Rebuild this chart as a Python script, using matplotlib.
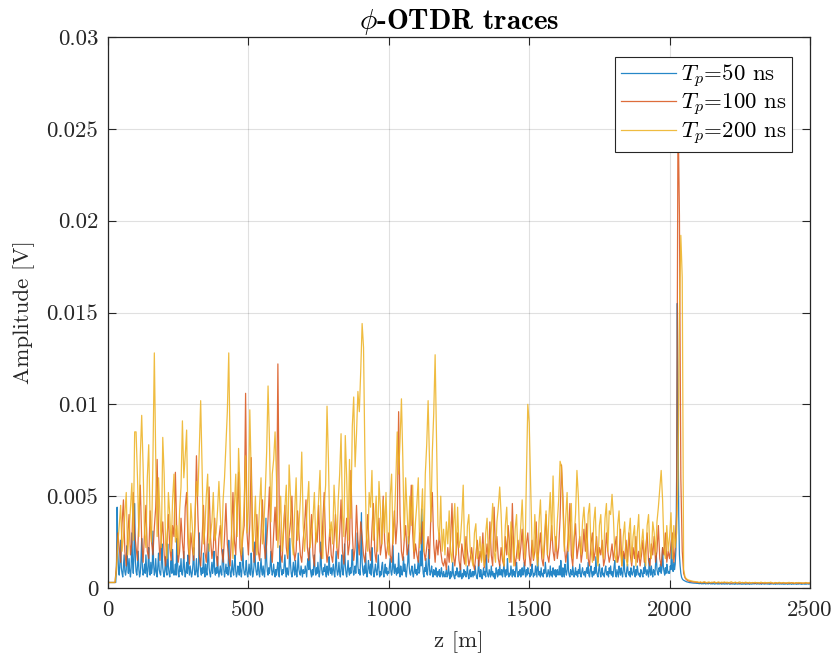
import numpy as np
import matplotlib
matplotlib.use("Agg")
import matplotlib.pyplot as plt

# ---------------- data (amplitudes in units of 1e-4 V) ----------------
amp_scale = 1e-4
z_step_50ns = 2.5   # m between samples of the 50 ns trace
z_step_100ns = 5.0
z_step_200ns = 5.0

amp_50ns = [
    3,3,3,3,3,3,3,3,3,3,3,3,10,44,20,9,7,14,26,11,8,6,12,18,9,7,10,23,13,8,16,9,6,11,30,14,8,19,46,15,
    9,7,12,20,10,6,8,15,27,11,7,9,13,8,18,10,6,12,22,9,7,14,8,11,31,13,7,9,16,8,6,12,19,10,8,7,14,24,11,8,
    6,10,17,9,7,24,12,8,6,11,15,8,21,10,7,9,13,7,27,14,8,6,12,9,16,8,7,11,20,10,6,9,14,8,18,11,7,12,9,6,
    8,13,22,10,7,9,16,8,6,12,30,14,9,7,11,8,19,10,6,13,9,7,15,24,11,8,6,10,14,8,12,20,9,7,11,8,17,10,6,9,
    12,8,7,16,21,10,6,9,13,8,11,7,26,12,8,6,10,15,9,7,13,18,9,6,8,12,10,7,14,9,6,11,22,12,8,7,10,15,8,6,
    9,13,8,7,19,11,6,8,12,25,13,9,7,10,14,8,6,11,16,9,7,12,8,6,13,38,15,9,7,11,8,12,20,10,7,9,13,8,6,10,
    7,11,14,8,6,23,12,9,7,10,8,13,18,9,6,11,8,7,12,27,13,8,6,9,14,10,7,15,9,6,11,19,10,8,7,12,9,6,10,8,
    8,12,9,6,13,16,10,22,11,8,6,10,7,12,18,9,7,11,8,14,9,6,10,25,12,8,7,11,9,13,8,6,12,9,7,17,10,8,11,7,
    10,13,8,6,12,20,10,7,9,14,8,6,11,18,9,7,12,24,13,8,6,10,15,9,7,11,8,13,21,10,7,9,12,8,14,30,12,8,10,7,
    18,41,14,9,7,12,8,19,10,6,9,15,11,8,13,7,22,12,8,6,10,13,9,7,11,18,10,6,9,7,12,14,8,6,10,13,8,11,7,9,
    8,12,16,9,7,10,23,11,8,13,9,7,11,8,19,10,6,12,9,7,10,17,9,13,8,6,11,14,28,12,8,7,10,12,8,6,9,13,8,10,
    7,11,15,8,9,20,12,43,14,8,6,11,9,16,8,7,13,21,10,7,9,12,8,6,10,9,7,11,8,6,9,7,10,6,8,11,7,6,9,7,
    6,8,10,6,7,12,8,5,9,6,7,14,8,6,5,9,7,11,8,6,9,6,13,7,5,8,6,10,7,9,6,8,12,7,5,8,10,6,7,9,
    6,9,7,12,8,6,5,9,15,8,6,10,7,5,8,11,7,9,6,18,9,7,6,10,8,6,12,7,9,6,8,5,7,11,8,6,10,7,13,8,
    7,10,6,9,13,8,6,10,7,16,9,6,8,7,12,8,6,10,7,9,6,11,14,8,6,9,7,10,6,8,11,7,9,14,8,6,10,7,11,8,
    8,6,10,7,13,9,6,8,7,12,9,6,17,10,7,9,6,11,7,8,6,10,8,14,9,6,7,10,8,6,12,7,9,6,11,8,7,10,6,9,
    10,7,8,12,7,15,9,6,11,8,6,13,9,7,10,20,9,7,6,10,8,7,12,9,6,8,11,7,9,6,10,8,13,7,6,9,11,8,7,9,
    6,9,11,8,14,7,6,10,12,8,6,9,7,11,8,17,9,7,6,10,13,8,6,9,11,7,8,6,10,12,8,7,9,6,11,8,12,7,9,6,
    8,12,15,7,6,10,8,6,12,9,7,11,8,6,10,18,9,7,6,10,13,8,7,9,6,11,8,7,9,12,8,6,10,7,12,9,7,8,6,10,
    9,7,6,11,8,14,9,7,10,8,6,16,9,7,12,8,6,10,9,7,13,19,10,8,7,11,9,13,8,10,22,12,9,7,11,8,13,10,8,9,
    8,12,10,25,11,9,14,10,13,21,60,155,90,40,18,12,8,6,5,4.5,4.2,4,3.8,3.6,3.4,3.3,3.2,3.1,3,2.9,2.9,2.8,2.8,2.7,2.7,2.6,2.7,2.6,2.6,2.5,
    2.6,2.4,2.5,2.3,2.6,2.4,2.2,2.5,2.3,2.4,2.6,2.2,2.4,2.3,2.5,2.2,2.4,2.6,2.3,2.2,2.4,2.2,2.5,2.3,2.1,2.4,2.2,2.6,2.3,2.1,2.4,2.2,2.3,2.5,2.1,2.3,2.2,2.4,2.1,2.3,
    2.2,2.4,2.1,2.3,2.5,2.2,2.0,2.3,2.2,2.4,2.1,2.3,2.2,2.0,2.4,2.2,2.3,2.1,2.2,2.4,2.1,2.3,2.2,2.0,2.3,2.1,2.4,2.2,2.0,2.3,2.1,2.2,2.4,2.1,2.0,2.3,2.2,2.1,2.3,2.2,
    2.4,2.2,2.5,2.3,2.1,2.4,2.2,2.3,2.1,2.4,2.2,2.0,2.3,2.5,2.2,2.1,2.3,2.2,2.4,2.1,2.3,2.2,2.0,2.4,2.1,2.3,2.2,2.4,2.1,2.2,2.3,2.0,2.2,2.4,2.1,2.3,2.2,2.1,2.3,2.2,
    2.1,2.3,2.2,2.0,2.3,2.1,2.4,2.2,2.0,2.3,2.1,2.2,2.4,2.1,2.0,2.3,2.2,2.1,2.3,2.2,2.2,2.0,2.3,2.1,2.2,2.4,2.1,2.3,2.0,2.2,2.1,2.3,2.2,2.0,2.3,2.1,2.2,2.3,2.1,2.2,
    2.2,
]

amp_100ns = [
    3,3,3,3,3,3,12,30,22,14,35,48,20,12,28,40,18,25,52,30,
    22,15,38,56,26,14,30,45,20,16,42,25,18,33,44,70,30,15,28,36,
    18,12,26,40,22,15,34,28,63,30,14,20,38,25,16,44,52,24,13,30,
    22,15,35,72,40,18,12,26,45,20,14,30,55,28,16,22,38,18,12,27,
    34,20,14,28,46,24,16,12,30,52,26,18,40,63,22,15,28,34,106,30,
    18,35,71,28,14,22,40,20,15,30,48,26,16,24,38,55,22,14,30,44,
    26,122,40,18,14,32,45,22,16,28,36,50,24,15,20,42,30,18,14,26,
    34,48,22,15,28,40,18,12,30,25,45,20,16,36,52,24,14,20,32,18,
    14,26,40,22,16,30,48,20,13,28,38,18,24,64,30,15,22,45,26,18,
    36,28,18,14,25,40,22,15,32,46,20,14,28,38,18,24,50,26,16,22,
    30,18,14,28,42,24,36,96,40,20,15,26,34,18,22,32,56,30,16,24,
    18,14,30,24,36,20,15,22,28,16,40,52,24,14,26,18,30,20,14,12,
    16,10,22,14,26,46,18,12,20,30,15,10,24,18,13,28,20,12,16,22,
    14,10,18,26,12,20,15,30,11,16,24,14,36,18,12,44,20,28,16,12,
    22,15,12,28,18,34,24,14,46,20,12,18,26,15,22,32,16,12,24,30,
    18,12,26,15,20,36,14,22,30,16,12,25,40,18,14,22,34,20,15,28,
    16,22,38,67,50,24,14,20,30,46,18,12,26,35,16,22,28,14,20,32,
    20,35,16,12,24,30,15,20,28,14,22,18,26,12,16,30,20,14,18,24,
    15,22,28,14,18,32,12,20,16,26,14,30,18,12,22,16,28,14,20,12,
    18,26,14,22,30,15,12,24,18,28,14,20,34,16,12,22,18,30,14,20,
    16,24,30,14,22,40,262,203,60,20,8,5.5,4.5,4,3.7,3.5,3.4,3.3,3.2,3.1,
    3.1,2.9,3.0,2.8,3.1,2.9,3.0,2.7,3.0,2.9,2.8,3.0,3.1,2.8,2.9,3.0,2.7,2.9,2.8,3.0,
    2.9,2.7,3.0,2.8,2.6,2.9,2.8,3.0,2.7,2.9,2.6,2.8,3.0,2.7,2.8,2.9,2.6,2.8,2.7,2.9,
    2.8,2.6,2.9,2.7,2.8,2.5,2.9,2.7,2.6,2.8,2.7,2.9,2.6,2.8,2.5,2.7,2.8,2.6,2.9,2.7,
    2.6,2.8,2.7,2.5,2.8,2.6,2.7,2.9,2.6,2.5,2.8,2.7,2.6,2.8,2.5,2.7,2.6,2.8,2.7,2.6,
    2.7,
]

amp_200ns = [
    3,3,3,3,3,3,10,24,34,45,20,28,40,52,18,30,44,57,26,85,
    85,60,28,72,94,66,30,22,60,78,36,25,70,128,70,28,60,40,22,82,
    62,24,16,52,40,20,48,62,25,34,18,42,55,91,60,72,86,30,18,46,
    34,18,40,58,50,75,102,66,24,32,50,62,20,28,36,52,26,30,42,58,
    40,22,48,60,78,96,128,74,30,16,44,62,28,76,54,18,30,46,72,30,
    44,97,62,20,32,50,18,28,46,60,24,34,52,74,110,80,36,62,70,85,
    60,22,36,50,20,30,44,56,18,67,50,26,18,42,60,26,34,48,74,35,
    20,32,46,58,22,30,38,52,24,34,48,64,30,16,44,56,99,70,28,36,
    24,56,40,22,48,62,84,40,28,83,60,26,70,38,88,104,66,84,107,96,
    118,144,131,70,28,20,52,44,64,26,36,50,20,58,44,24,48,30,52,24,
    18,50,62,24,36,58,85,62,80,103,70,26,60,42,24,50,34,56,20,36,
    46,60,22,38,54,20,62,78,102,70,36,74,95,127,80,34,26,50,20,32,
    18,36,24,42,20,14,34,46,18,44,22,26,38,56,20,12,34,40,20,16,
    12,30,35,16,20,28,14,24,12,30,38,16,22,32,46,20,14,36,44,55,
    40,18,12,34,44,20,14,36,28,12,32,40,16,22,34,48,26,16,60,100,
    90,56,24,16,40,20,12,36,48,24,16,30,42,18,38,52,26,61,30,20,
    36,48,69,66,44,20,38,52,20,30,46,16,28,40,64,50,24,18,36,44,
    30,16,40,46,22,14,36,44,18,12,34,40,20,16,38,46,20,42,40,51,
    38,18,14,34,42,20,12,28,36,16,12,30,38,14,28,34,12,30,40,16,
    24,32,18,12,34,40,20,16,36,30,18,36,44,54,64,48,22,16,34,20,
    28,41,16,34,22,30,60,150,192,169,10,6,5,4.5,4.2,4,3.8,3.6,3.5,3.4,
    3.3,3.0,3.4,2.9,3.2,3.5,2.8,3.1,3.3,2.9,3.2,3.0,3.4,2.8,3.1,3.3,2.9,3.2,3.0,3.3,
    3.0,3.2,2.8,3.1,3.4,2.9,3.0,3.2,2.7,3.1,3.3,2.9,3.0,2.8,3.2,3.0,2.9,3.1,2.7,3.0,
    2.9,3.1,2.8,3.0,2.7,3.2,2.9,2.8,3.1,2.7,3.0,2.9,3.2,2.8,2.6,3.0,2.9,2.7,3.1,2.8,
    2.8,3.0,2.7,2.9,2.6,3.1,2.8,2.7,3.0,2.6,2.9,2.8,3.0,2.7,2.9,2.6,2.8,3.0,2.7,2.8,
    2.8,
]

series_labels = [r"$T_p$=50 ns", r"$T_p$=100 ns", r"$T_p$=200 ns"]
series_colors = ["#0072BD", "#D95319", "#EDB120"]

x_ticks = [0, 500, 1000, 1500, 2000, 2500]
y_ticks = [0, 0.005, 0.01, 0.015, 0.02, 0.025, 0.03]
y_tick_labels = ["0", "0.005", "0.01", "0.015", "0.02", "0.025", "0.03"]

# ---------------- styling ----------------
plt.rcParams["font.family"] = "cmr10"
plt.rcParams["mathtext.fontset"] = "cm"
plt.rcParams["axes.unicode_minus"] = False
text_color = "#262626"

fig = plt.figure(figsize=(8.35, 6.64), dpi=100)
W, H = 835, 664
ax_l, ax_r, ax_t, ax_b = 108, 810, 37, 588
ax = fig.add_axes([ax_l / W, 1 - ax_b / H, (ax_r - ax_l) / W, (ax_b - ax_t) / H])

for amps, step, lab, col in zip([amp_50ns, amp_100ns, amp_200ns],
                                [z_step_50ns, z_step_100ns, z_step_200ns],
                                series_labels, series_colors):
    y = np.asarray(amps, dtype=float) * amp_scale
    z = np.arange(len(y)) * step
    ax.plot(z, y, color=col, lw=0.9, alpha=0.85, label=lab)

ax.set_xlim(0, 2500)
ax.set_ylim(0, 0.03)
ax.set_xticks(x_ticks)
ax.set_xticklabels([str(t) for t in x_ticks])
ax.set_yticks(y_ticks)
ax.set_yticklabels(y_tick_labels)

ax.grid(True, color="#000000", alpha=0.12, lw=0.8)
ax.set_axisbelow(True)
ax.tick_params(direction="in", top=True, right=True, length=6, width=0.8,
               colors=text_color, labelsize=16.5)
ax.tick_params(axis="x", pad=9)
ax.tick_params(axis="y", pad=7)
for s in ax.spines.values():
    s.set_color(text_color)
    s.set_linewidth(0.9)

ax.set_xlabel("z [m]", fontsize=16.5, color=text_color, labelpad=8)
ax.set_ylabel("Amplitude [V]", fontsize=16.5, color=text_color, labelpad=8)
ax.set_title(r"$\phi$-OTDR traces", fontsize=21, fontfamily="cmb10",
             color="black", pad=6)

leg = ax.legend(loc="upper right",
                bbox_to_anchor=((792 - ax_l) / (ax_r - ax_l), (ax_b - 57) / (ax_b - ax_t)),
                borderaxespad=0, fontsize=16.5, fancybox=False, framealpha=1,
                edgecolor=text_color, handlelength=2.4, handletextpad=0.2,
                labelspacing=0.1, borderpad=0.25)
leg.get_frame().set_linewidth(0.8)

fig.savefig("out.png", dpi=100)
